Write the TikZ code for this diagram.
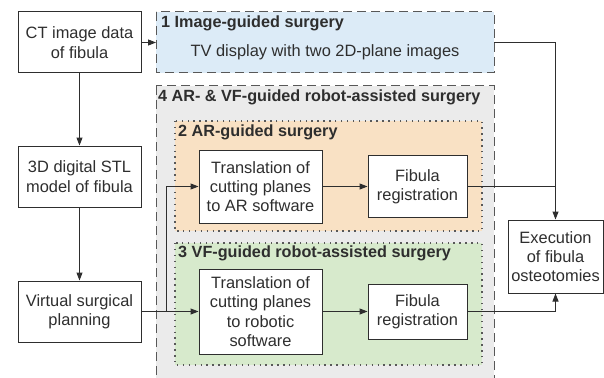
\documentclass[tikz,border=0pt]{standalone}
\usepackage{fontspec}
\setmainfont{Liberation Sans}
\usetikzlibrary{arrows.meta}
\definecolor{ink}{HTML}{2E2E2E}
\definecolor{bluefill}{HTML}{DCEBF7}
\definecolor{grayfill}{HTML}{EBEBEB}
\definecolor{orangefill}{HTML}{F9E1C4}
\definecolor{greenfill}{HTML}{D7EACC}
\tikzset{
  box/.style={draw=ink, line width=1pt, fill=white, text=ink, align=center, inner sep=0pt,
    font=\fontsize{16.4}{19.3}\selectfont},
  region/.style={inner sep=0pt, line width=1pt},
  dashreg/.style={region, draw=ink!80, dash pattern=on 9pt off 5pt},
  dotreg/.style={region, draw=ink!80, line width=1.4pt, dash pattern=on 1.4pt off 4.5pt},
  ttl/.style={font=\fontsize{16.2}{19}\selectfont\bfseries, text=ink, anchor=west, inner sep=0pt},
  conn/.style={draw=ink, line width=1pt},
  arr/.style={conn, -{Triangle[length=8pt,width=6pt]}},
}
\begin{document}
\begin{tikzpicture}[x=1pt,y=-1pt]
\useasboundingbox (0,0) rectangle (604,377);
\begin{scope}
\clip (0,0) rectangle (604,377);
% regions
\draw[dashreg, fill=bluefill] (156,12) rectangle (494,73);
\draw[dashreg, fill=grayfill] (156,86) rectangle (494,395);
\draw[dotreg, fill=orangefill] (175,121) rectangle (482,231);
\draw[dotreg, fill=greenfill] (175,243) rectangle (482,365);
\end{scope}
\coordinate (box1w) at (156,42.5);
\coordinate (box1e) at (494,42.5);
\node[ttl] (t1) at (161,23) {1 Image-guided surgery};
\node[font=\fontsize{16.4}{19}\selectfont, text=ink, inner sep=0pt] (tv) at (325,52) {TV display with two 2D-plane images};
\node[ttl] (t4) at (158,97) {4 AR- \& VF-guided robot-assisted surgery};
\node[ttl] (t2) at (178,132) {2 AR-guided surgery};
\node[ttl] (t3) at (178,253) {3 VF-guided robot-assisted surgery};
% boxes
\node[box, minimum width=123pt, minimum height=61pt] (ct) at (79.5,42.5) {CT image data\\of fibula};
\node[box, minimum width=123pt, minimum height=61pt] (stl) at (79.5,176.5) {3D digital STL\\model of fibula};
\node[box, minimum width=123pt, minimum height=61pt] (vsp) at (79.5,311.5) {Virtual surgical\\planning};
\node[box, minimum width=123pt, minimum height=73pt] (trAR) at (260.5,186.5) {Translation of\\cutting planes\\to AR software};
\node[box, minimum width=99pt, minimum height=62pt] (frAR) at (417.5,186.5) {Fibula\\registration};
\node[box, minimum width=123pt, minimum height=85pt] (trVF) at (260.5,311.5) {Translation of\\cutting planes\\to robotic\\software};
\node[box, minimum width=99pt, minimum height=55pt] (frVF) at (417.5,311.5) {Fibula\\registration};
\node[box, minimum width=95pt, minimum height=73pt] (exe) at (555.5,256.5) {Execution\\of fibula\\osteotomies};
% connectors
\draw[arr] (ct.east) -- (box1w);
\draw[arr] (ct) -- (stl);
\draw[arr] (stl) -- (vsp);
\draw[arr] (vsp) -- (trVF);
\coordinate (br) at (166,311.5);
\draw[arr] (br) |- (trAR.west);
\draw[arr] (trAR) -- (frAR);
\draw[arr] (trVF) -- (frVF);
\draw[arr] (box1e) -| (exe.north);
\draw[conn] (frAR.east) -- (frAR.east -| exe.north);
\draw[arr] (frVF.east) -| (exe.south);
\end{tikzpicture}
\end{document}
